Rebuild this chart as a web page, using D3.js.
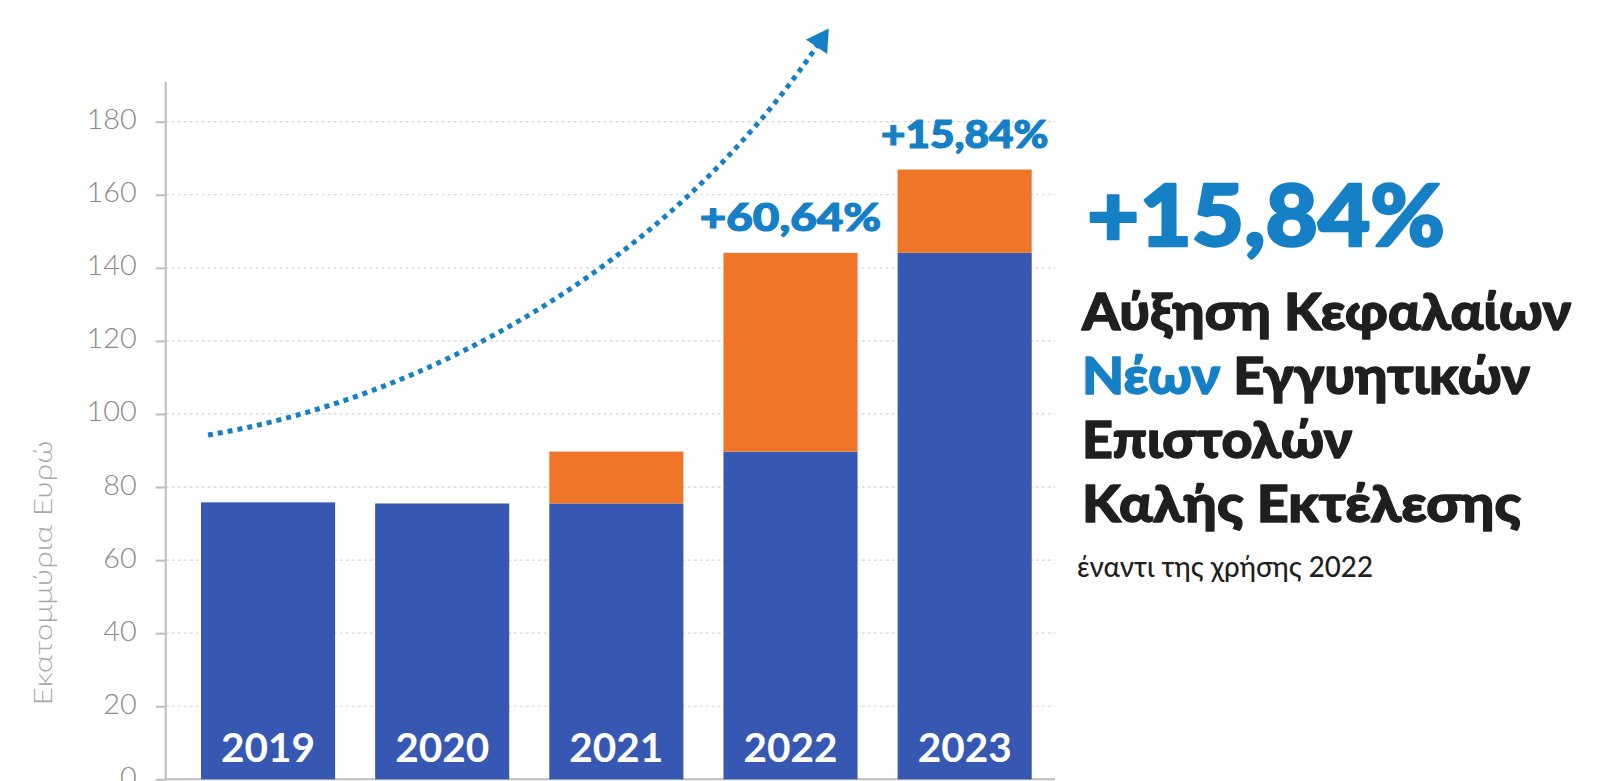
<!DOCTYPE html>
<html>
<head>
<meta charset="utf-8">
<script src="https://cdn.jsdelivr.net/npm/d3@7"></script>
<style>
  html, body { margin: 0; padding: 0; background: #fff; }
  svg { display: block; }
</style>
</head>
<body>
<svg id="chart" width="1608" height="781"></svg>
<script>
// ---- data ----
const years = ["2019", "2020", "2021", "2022", "2023"];
const existingValues = [75.8, 75.5, 75.5, 89.7, 144.1];
const newValues = [0, 0, 14.2, 54.4, 22.8];
const yTicks = [0, 20, 40, 60, 80, 100, 120, 140, 160, 180];
const barAnnotations = [
  { year: "2022", label: "+60,64%" },
  { year: "2023", label: "+15,84%" }
];
const yTitle = "Εκατομμύρια Ευρώ";
const headline = "+15,84%";
const titleLines = [
  [{ t: "Αύξηση Κεφαλαίων", c: "dark" }],
  [{ t: "Νέων", c: "blue" }, { t: " Εγγυητικών", c: "dark" }],
  [{ t: "Επιστολών", c: "dark" }],
  [{ t: "Καλής Εκτέλεσης", c: "dark" }]
];
const subtitle = "έναντι της χρήσης 2022";

// ---- styles ----
const C = {
  blueBar: "#3758b2",
  orange: "#ef7628",
  textBlue: "#1680c6",
  dark: "#1f1f1d",
  tick: "#8a8a8a",
  axis: "#bdbdbd",
  grid: "#d4d4d4",
  title: "#a8a8a8"
};
const FONT = "Lato, Inter, 'Noto Sans', sans-serif";

const svg = d3.select("#chart");
svg.append("rect").attr("width", 1608).attr("height", 781).attr("fill", "#fff");

const axisX = 165.7;
const plotRight = 1055;
const y = d3.scaleLinear().domain([0, 180]).range([779.3, 121.7]);
const x = d3.scaleBand().domain(years).range([201, 1031.7]).paddingInner(0.23).paddingOuter(0);

const rows = years.map((yr, i) => ({ year: yr, a: existingValues[i], b: newValues[i] }));
const stack = d3.stack().keys(["a", "b"])(rows);

// gridlines
svg.append("g").selectAll("line").data(yTicks.filter(d => d > 0)).join("line")
  .attr("x1", axisX).attr("x2", plotRight)
  .attr("y1", d => y(d)).attr("y2", d => y(d))
  .attr("stroke", C.grid).attr("stroke-width", 1.2).attr("stroke-dasharray", "3,3");

// y axis
const yAxis = d3.axisLeft(y).tickValues(yTicks).tickSize(10).tickPadding(19).tickFormat(d3.format("d"));
const gy = svg.append("g").attr("transform", `translate(${axisX},0)`).call(yAxis);
gy.select(".domain").remove();
gy.selectAll(".tick line").attr("stroke", C.axis).attr("stroke-width", 2);
gy.selectAll(".tick text")
  .attr("fill", C.tick).attr("font-family", FONT).attr("font-weight", 300)
  .attr("font-size", 28).attr("dy", "0.25em")
  .attr("textLength", d => String(d).length * 16.7).attr("lengthAdjust", "spacingAndGlyphs");
svg.append("line").attr("x1", axisX).attr("x2", axisX).attr("y1", 82).attr("y2", 780)
  .attr("stroke", C.axis).attr("stroke-width", 2);
// baseline
svg.append("line").attr("x1", axisX).attr("x2", plotRight).attr("y1", y(0)).attr("y2", y(0))
  .attr("stroke", C.axis).attr("stroke-width", 2);

// y title
svg.append("text")
  .attr("transform", `translate(52,573) rotate(-90)`)
  .attr("text-anchor", "middle")
  .attr("font-family", FONT).attr("font-weight", 300).attr("font-size", 26)
  .attr("fill", C.title)
  .attr("textLength", 265).attr("lengthAdjust", "spacingAndGlyphs")
  .text(yTitle);

// bars
const colors = [C.blueBar, C.orange];
svg.append("g").selectAll("g").data(stack).join("g")
  .attr("fill", (d, i) => colors[i])
  .selectAll("rect").data(d => d.filter(s => s[1] - s[0] > 0)).join("rect")
  .attr("x", d => x(d.data.year))
  .attr("width", x.bandwidth())
  .attr("y", d => y(d[1]))
  .attr("height", d => y(d[0]) - y(d[1]));

// year labels inside bars
svg.append("g").selectAll("text").data(years).join("text")
  .attr("x", d => x(d) + x.bandwidth() / 2)
  .attr("y", 762)
  .attr("text-anchor", "middle")
  .attr("font-family", FONT).attr("font-weight", 700).attr("font-size", 41)
  .attr("fill", "#fff")
  .attr("textLength", 94).attr("lengthAdjust", "spacingAndGlyphs")
  .text(d => d);

// annotations above bars
const totals = years.map((yr, i) => existingValues[i] + newValues[i]);
svg.append("g").selectAll("text").data(barAnnotations).join("text")
  .attr("x", d => x(d.year) + x.bandwidth() / 2)
  .attr("y", d => y(totals[years.indexOf(d.year)]) - 22)
  .attr("text-anchor", "middle")
  .attr("font-family", FONT).attr("font-weight", 900).attr("font-size", 38)
  .attr("fill", C.textBlue)
  .attr("stroke", C.textBlue).attr("stroke-width", 1.2).attr("stroke-linejoin", "round")
  .attr("textLength", d => d.label.length * 24.5 + (d.label.includes("1") ? -4 : 10))
  .attr("lengthAdjust", "spacingAndGlyphs")
  .text(d => d.label);

// dotted trend arrow
const defs = svg.append("defs");
defs.append("marker")
  .attr("id", "arrowhead")
  .attr("viewBox", "0 0 22 26")
  .attr("refX", 1).attr("refY", 13)
  .attr("markerWidth", 22).attr("markerHeight", 26)
  .attr("markerUnits", "userSpaceOnUse")
  .attr("orient", "auto")
  .append("path").attr("d", "M0,0 L22,13 L0,26 Z").attr("fill", C.textBlue);

const arrowPath = d3.path();
arrowPath.moveTo(208, 435);
arrowPath.bezierCurveTo(420, 400, 665, 270, 817, 46);
svg.append("path")
  .attr("d", arrowPath.toString())
  .attr("fill", "none")
  .attr("stroke", C.textBlue)
  .attr("stroke-width", 5)
  .attr("stroke-dasharray", "5,5")
  .attr("marker-end", "url(#arrowhead)");

// right-side headline block
svg.append("text")
  .attr("x", 1087).attr("y", 246)
  .attr("font-family", FONT).attr("font-weight", 900).attr("font-size", 86)
  .attr("fill", C.textBlue)
  .attr("stroke", C.textBlue).attr("stroke-width", 2.5).attr("stroke-linejoin", "round")
  .attr("textLength", 358).attr("lengthAdjust", "spacingAndGlyphs")
  .text(headline);

const lineWidths = [489, 448, 270, 439];
const lineBaselines = [330, 393.5, 458, 522];
const tl = svg.append("g").selectAll("text").data(titleLines).join("text")
  .attr("x", 1082)
  .attr("y", (d, i) => lineBaselines[i])
  .attr("font-family", FONT).attr("font-weight", 900).attr("font-size", 51)
  .attr("stroke-width", 1.3).attr("stroke-linejoin", "round")
  .attr("textLength", (d, i) => lineWidths[i]).attr("lengthAdjust", "spacingAndGlyphs");
tl.selectAll("tspan").data(d => d).join("tspan")
  .attr("fill", d => d.c === "blue" ? C.textBlue : C.dark)
  .attr("stroke", d => d.c === "blue" ? C.textBlue : C.dark)
  .text(d => d.t);

svg.append("text")
  .attr("x", 1077).attr("y", 577)
  .attr("font-family", FONT).attr("font-weight", 500).attr("font-size", 28)
  .attr("fill", C.dark)
  .attr("textLength", 296).attr("lengthAdjust", "spacingAndGlyphs")
  .text(subtitle);
</script>
</body>
</html>
